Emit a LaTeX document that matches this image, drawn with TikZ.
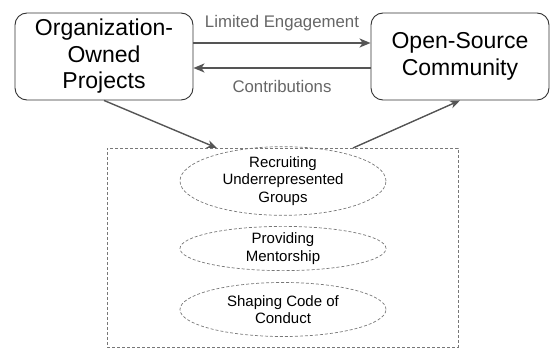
\documentclass[tikz,border=0pt]{standalone}
\usepackage{fontspec}
\setmainfont{Liberation Sans}
\usetikzlibrary{arrows.meta,shapes.geometric}
\definecolor{edgegray}{HTML}{555555}
\definecolor{labelgray}{HTML}{666666}
\definecolor{framegray}{HTML}{333333}
\definecolor{dashgray}{HTML}{777777}
\tikzset{
  mainbox/.style={draw=framegray, line width=0.9pt, rounded corners=12pt,
    minimum width=178pt, minimum height=87pt, align=center,
    font=\fontsize{23}{26.5}\selectfont, inner sep=0pt},
  flow/.style={draw=edgegray, line width=1.8pt,
    -{Stealth[length=11pt,width=9pt,inset=3pt]}},
  slant/.style={draw=edgegray, line width=1.4pt,
    -{Stealth[length=10pt,width=8pt,inset=3pt]}},
  flowlabel/.style={text=labelgray, font=\fontsize{16.8}{19}\selectfont},
  group/.style={draw=dashgray, dash pattern=on 3pt off 2pt, line width=0.7pt,
    minimum width=351pt, minimum height=199pt, inner sep=0pt},
  practice/.style={ellipse, draw=dashgray, dash pattern=on 3pt off 2pt,
    line width=0.7pt, minimum width=206pt, inner sep=0pt, align=center,
    font=\fontsize{15}{17.3}\selectfont},
}
\begin{document}
\begin{tikzpicture}[x=1pt, y=-1pt]
  \useasboundingbox (0,0) rectangle (550,350);
  % the two parties
  \node[mainbox] (org) at (104,56.5) {Organization-\\Owned\\Projects};
  \node[mainbox] (oss) at (460,56.5) {Open-Source\\Community};
  % exchanges between them (y axis points down, so shifts are in page terms)
  \draw[flow] ([yshift=13.5pt]org.east) -- ([yshift=13.5pt]oss.west)
    node[flowlabel, midway, above=7.5pt] (lim) {Limited Engagement};
  \draw[flow] ([yshift=-11.5pt]oss.west) -- ([yshift=-11.5pt]org.east)
    node[flowlabel, midway, below=8.5pt] (con) {Contributions};
  % inclusion practices
  \node[group] (grp) at (282.5,247.5) {};
  \node[practice, minimum height=52pt] (rec) at (283,181) {Recruiting\\Underrepresented\\Groups};
  \node[practice, minimum height=43pt] (men) at (283,248.5) {Providing\\Mentorship};
  \node[practice, minimum height=54pt] (coc) at (283,309.5) {Shaping Code of\\Conduct};
  \coordinate (inpt) at (217,148);
  \coordinate (outpt) at (353,148);
  \draw[slant] (org.south) -- (inpt);
  \draw[slant] (outpt) -- (oss.south);
\end{tikzpicture}
\end{document}
